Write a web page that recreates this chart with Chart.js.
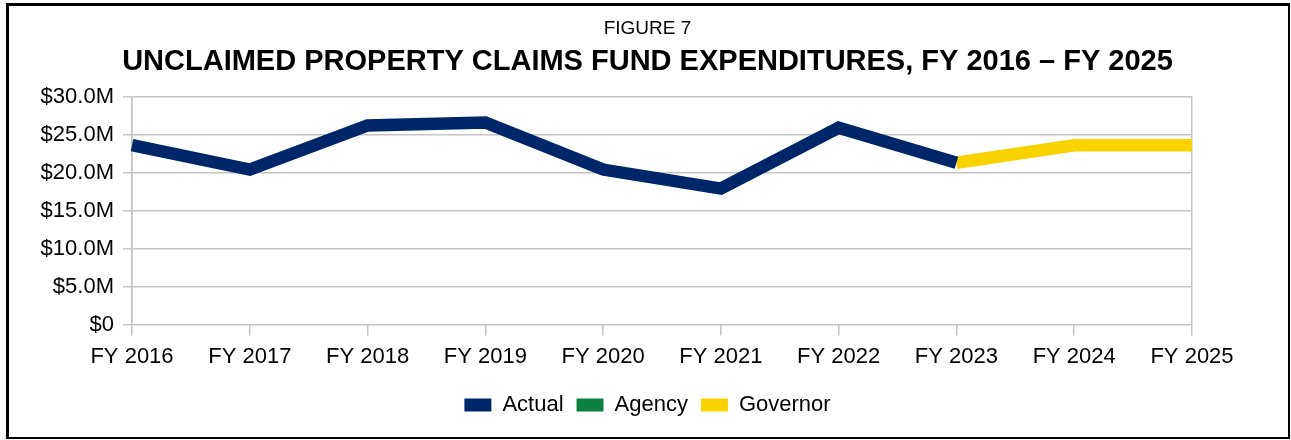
<!DOCTYPE html>
<html>
<head>
<meta charset="utf-8">
<script src="https://cdn.jsdelivr.net/npm/chart.js@4/dist/chart.umd.min.js"></script>
<style>
  body { margin: 0; background: #fff; }
  #wrap { position: relative; width: 1291px; height: 440px; }
  #marco {
    position: absolute; left: 6px; top: 3px; right: 1px; bottom: 1px;
    border-style: solid; border-color: #000; border-width: 3px 2px 2px 3px;
    pointer-events: none;
  }
</style>
</head>
<body>
<div id="wrap">
  <canvas id="grafico" width="1291" height="440"></canvas>
  <div id="marco"></div>
</div>
<script>
// datos del gráfico (millones de dólares)
var anios = ["FY 2016", "FY 2017", "FY 2018", "FY 2019", "FY 2020", "FY 2021", "FY 2022", "FY 2023", "FY 2024", "FY 2025"];
var actual = [23.6, 20.4, 26.2, 26.6, 20.4, 17.9, 25.9, 21.3, null, null];
var agencia = [null, null, null, null, null, null, null, null, null, null];
var gobernador = [null, null, null, null, null, null, null, 21.3, 23.6, 23.6];
var ticksY = [0, 5, 10, 15, 20, 25, 30];

var fuente = "'Liberation Sans', Arial, sans-serif";
var gris = "#c4c4c4";

Chart.defaults.font.family = fuente;
Chart.defaults.color = "#000";

var canvas = document.getElementById('grafico').getContext("2d");
window.linea = new Chart(canvas, {
    type: "line",
    data: {
        labels: anios,
        datasets: [{
                label: "Actual",
                data: actual,
                borderColor: "#00266a",
                backgroundColor: "#00266a",
                borderWidth: 12.5,
                borderJoinStyle: "miter",
                pointRadius: 0,
                tension: 0
            },
            {
                label: "Agency",
                data: agencia,
                borderColor: "#0e8042",
                backgroundColor: "#0e8042",
                borderWidth: 12.5,
                pointRadius: 0
            },
            {
                label: "Governor",
                data: gobernador,
                borderColor: "#fad200",
                backgroundColor: "#fad200",
                borderWidth: 12.5,
                borderJoinStyle: "miter",
                pointRadius: 0,
                tension: 0
            }
        ]
    },
    options: {
        responsive: false,
        animation: false,
        layout: {
            padding: { left: 12, right: 8, top: 17, bottom: 14 }
        },
        plugins: {
            title: {
                display: true,
                text: "FIGURE 7",
                font: { size: 19, weight: "normal" },
                padding: { top: 0, bottom: 5 }
            },
            subtitle: {
                display: true,
                text: "UNCLAIMED PROPERTY CLAIMS FUND EXPENDITURES, FY 2016 \u2013 FY 2025",
                color: "#000",
                font: { size: 29, weight: "bold" },
                padding: { top: 0, bottom: 17 }
            },
            legend: {
                position: "bottom",
                labels: {
                    boxWidth: 27,
                    boxHeight: 13,
                    padding: 13,
                    font: { size: 22 },
                    generateLabels: function(chart) {
                        var items = Chart.defaults.plugins.legend.labels.generateLabels(chart);
                        items.forEach(function(it) { it.lineWidth = 0; });
                        return items;
                    }
                }
            },
            tooltip: { enabled: false }
        },
        scales: {
            x: {
                offset: false,
                grid: {
                    color: function(c) {
                        return (c.index === 0 || c.index === anios.length - 1) ? gris : "transparent";
                    },
                    tickColor: gris,
                    tickLength: 11,
                    lineWidth: 1.5
                },
                border: { display: false },
                ticks: {
                    font: { size: 22 },
                    padding: 8,
                    maxRotation: 0
                },
                afterFit: function(eje) {
                    eje.height += 3;
                }
            },
            y: {
                min: 0,
                max: 30,
                afterBuildTicks: function(eje) {
                    eje.ticks = ticksY.map(function(v) { return { value: v }; });
                },
                grid: {
                    color: gris,
                    tickLength: 9,
                    lineWidth: 1.5
                },
                border: { color: gris, width: 1.5 },
                ticks: {
                    font: { size: 22 },
                    padding: 9,
                    callback: function(v) {
                        return v === 0 ? "$0" : "$" + v.toFixed(1) + "M";
                    }
                },
                afterFit: function(eje) {
                    eje.width = 120;
                }
            },
            derecha: {
                position: "right",
                min: 0,
                max: 30,
                grid: { display: false },
                border: { display: false },
                ticks: { display: false },
                afterFit: function(eje) {
                    eje.width = 91;
                }
            }
        }
    }
});
</script>
</body>
</html>
